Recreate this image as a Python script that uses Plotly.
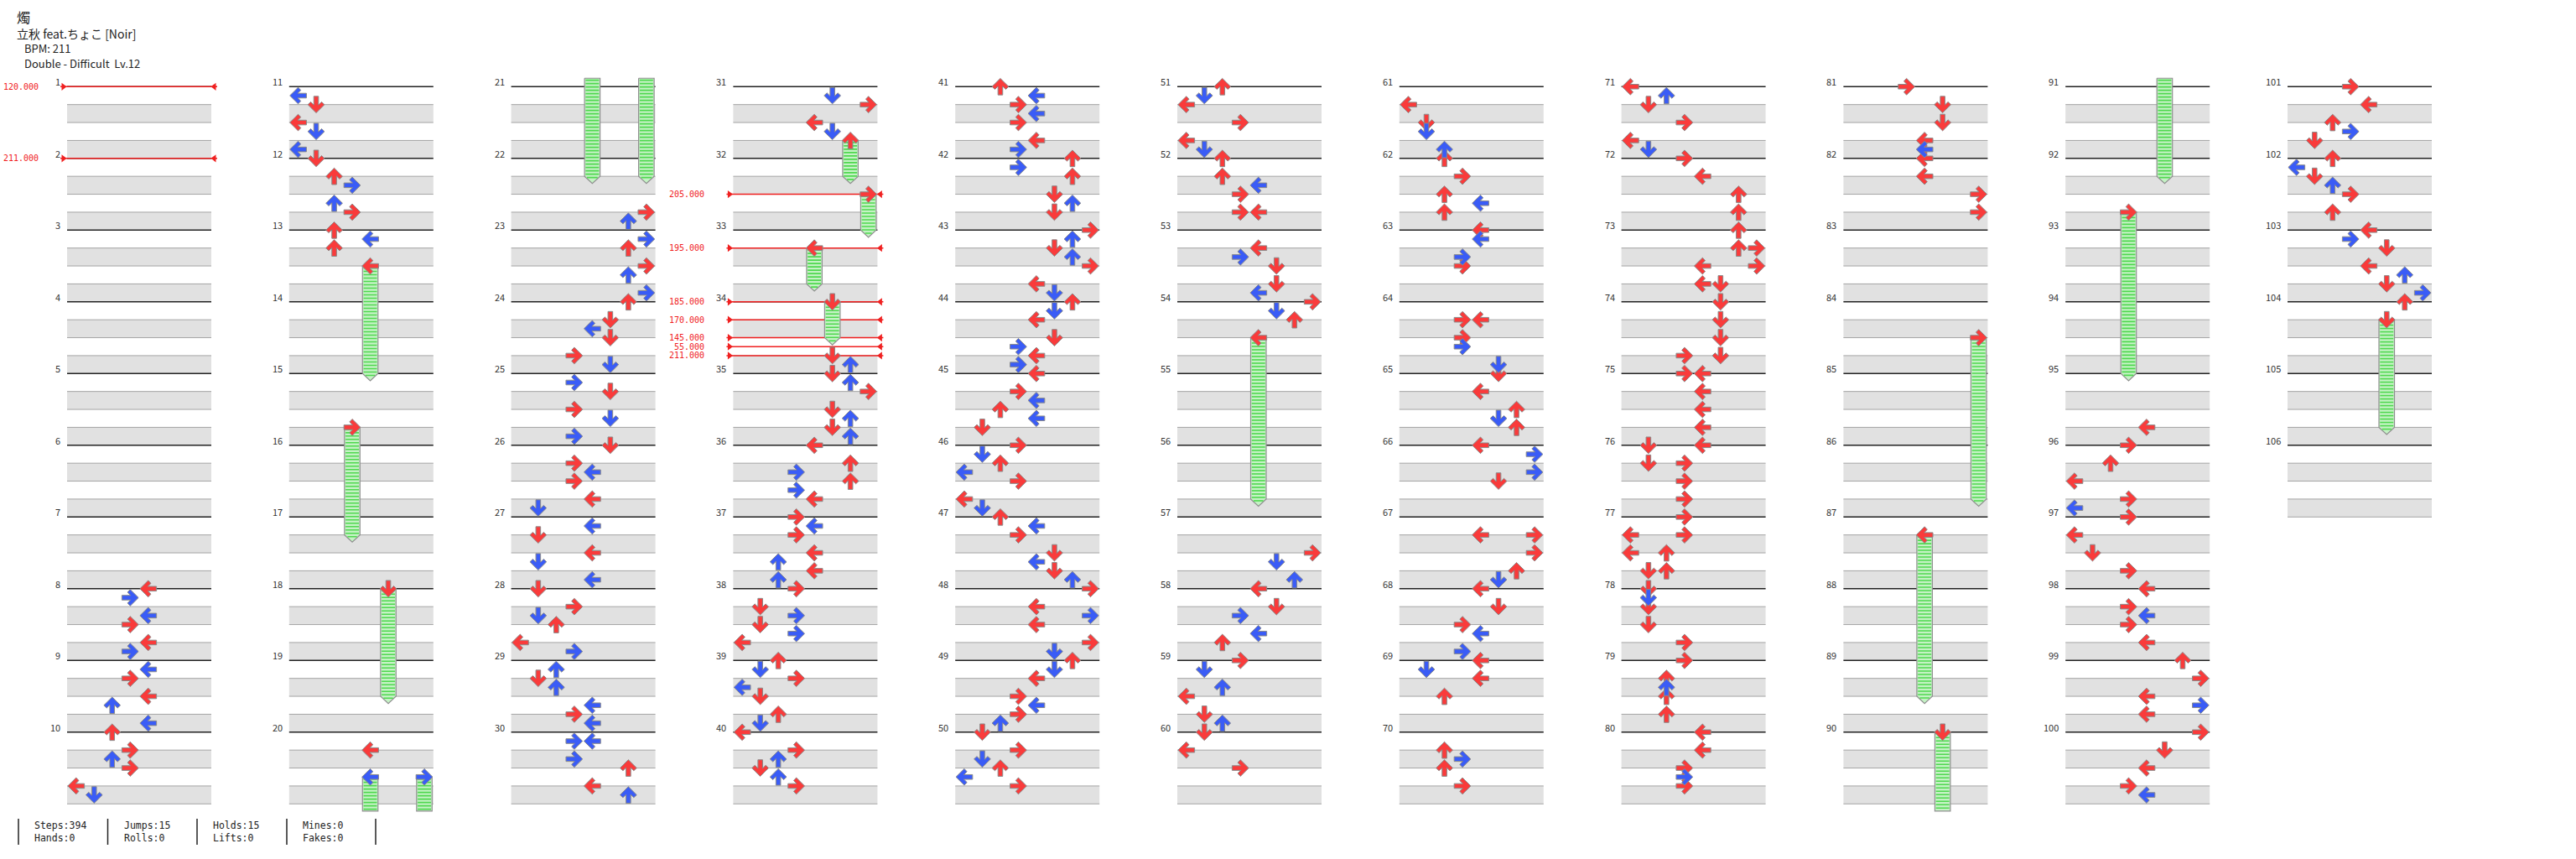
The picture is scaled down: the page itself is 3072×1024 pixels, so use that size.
import plotly.graph_objects as go

# ---------------- chart data ----------------
TITLE = "燭"
SUBTITLE = "立秋 feat.ちょこ [Noir]"
BPM_TEXT = "BPM: 211"
DIFF_TEXT = "Double - Difficult  Lv.12"

N_MEASURES = 106
MEASURES_PER_COLUMN = 10
LANE_COUNT = 8          # L D U R | L D U R

# taps: (measure, eighth-note index inside the measure 0-7, lane 0-7)
TAPS_01_10 = [
    (8, 0, 4), (8, 1, 3), (8, 3, 4), (8, 4, 3), (8, 6, 4), (8, 7, 3),
    (9, 1, 4), (9, 2, 3), (9, 4, 4), (9, 5, 2), (9, 7, 4),
    (10, 0, 2), (10, 2, 3), (10, 3, 2), (10, 4, 3), (10, 6, 0), (10, 7, 1),
]
TAPS_11_20 = [
    (11, 1, 0), (11, 2, 1), (11, 4, 0), (11, 5, 1), (11, 7, 0),
    (12, 0, 1), (12, 2, 2), (12, 3, 3), (12, 5, 2), (12, 6, 3),
    (13, 0, 2), (13, 1, 4), (13, 2, 2),
    (20, 2, 4),
]
TAPS_21_30 = [
    (22, 6, 7), (22, 7, 6),
    (23, 1, 7), (23, 2, 6), (23, 4, 7), (23, 5, 6), (23, 7, 7),
    (24, 0, 6), (24, 2, 5), (24, 3, 4), (24, 4, 5), (24, 6, 3), (24, 7, 5),
    (25, 1, 3), (25, 2, 5), (25, 4, 3), (25, 5, 5), (25, 7, 3),
    (26, 0, 5), (26, 2, 3), (26, 3, 4), (26, 4, 3), (26, 6, 4), (26, 7, 1),
    (27, 1, 4), (27, 2, 1), (27, 4, 4), (27, 5, 1), (27, 7, 4),
    (28, 0, 1), (28, 2, 3), (28, 3, 1), (28, 4, 2), (28, 6, 0), (28, 7, 3),
    (29, 1, 2), (29, 2, 1), (29, 3, 2), (29, 5, 4), (29, 6, 3), (29, 7, 4),
    (30, 1, 3), (30, 1, 4), (30, 3, 3), (30, 4, 6), (30, 6, 4), (30, 7, 6),
]
TAPS_31_40 = [
    (31, 1, 5), (31, 2, 7), (31, 4, 4), (31, 5, 5),
    (34, 6, 5), (34, 7, 6),
    (35, 0, 5), (35, 1, 6), (35, 2, 7), (35, 4, 5), (35, 5, 6), (35, 6, 5), (35, 7, 6),
    (36, 0, 4), (36, 2, 6), (36, 3, 3), (36, 4, 6), (36, 5, 3), (36, 6, 4),
    (37, 0, 3), (37, 1, 4), (37, 2, 3), (37, 4, 4), (37, 5, 2), (37, 6, 4), (37, 7, 2),
    (38, 0, 3), (38, 2, 1), (38, 3, 3), (38, 4, 1), (38, 5, 3), (38, 6, 0),
    (39, 0, 2), (39, 1, 1), (39, 2, 3), (39, 3, 0), (39, 4, 1), (39, 6, 2), (39, 7, 1),
    (40, 0, 0), (40, 2, 3), (40, 3, 2), (40, 4, 1), (40, 5, 2), (40, 6, 3),
]
TAPS_41_50 = [
    (41, 0, 2), (41, 1, 4), (41, 2, 3), (41, 3, 4), (41, 4, 3), (41, 6, 4), (41, 7, 3),
    (42, 0, 6), (42, 1, 3), (42, 2, 6), (42, 4, 5), (42, 5, 6), (42, 6, 5),
    (43, 0, 7), (43, 1, 6), (43, 2, 5), (43, 3, 6), (43, 4, 7), (43, 6, 4), (43, 7, 5),
    (44, 0, 6), (44, 1, 5), (44, 2, 4), (44, 4, 5), (44, 5, 3), (44, 6, 4), (44, 7, 3),
    (45, 0, 4), (45, 2, 3), (45, 3, 4), (45, 4, 2), (45, 5, 4), (45, 6, 1),
    (46, 0, 3), (46, 1, 1), (46, 2, 2), (46, 3, 0), (46, 4, 3), (46, 6, 0), (46, 7, 1),
    (47, 0, 2), (47, 1, 4), (47, 2, 3), (47, 4, 5), (47, 5, 4), (47, 6, 5), (47, 7, 6),
    (48, 0, 7), (48, 2, 4), (48, 3, 7), (48, 4, 4), (48, 6, 7), (48, 7, 5),
    (49, 0, 6), (49, 1, 5), (49, 2, 4), (49, 4, 3), (49, 5, 4), (49, 6, 3), (49, 7, 2),
    (50, 0, 1), (50, 2, 3), (50, 3, 1), (50, 4, 2), (50, 5, 0), (50, 6, 3),
]
TAPS_51_60 = [
    (51, 0, 2), (51, 1, 1), (51, 2, 0), (51, 4, 3), (51, 6, 0), (51, 7, 1),
    (52, 0, 2), (52, 2, 2), (52, 3, 4), (52, 4, 3), (52, 6, 3), (52, 6, 4),
    (53, 2, 4), (53, 3, 3), (53, 4, 5), (53, 6, 5), (53, 7, 4),
    (54, 0, 7), (54, 1, 5), (54, 2, 6),
    (57, 4, 7), (57, 5, 5), (57, 7, 6),
    (58, 0, 4), (58, 2, 5), (58, 3, 3), (58, 5, 4), (58, 6, 2),
    (59, 0, 3), (59, 1, 1), (59, 3, 2), (59, 4, 0), (59, 6, 1), (59, 7, 2),
    (60, 0, 1), (60, 2, 0), (60, 4, 3),
]
TAPS_61_70 = [
    (61, 2, 0), (61, 4, 1), (61, 5, 1), (61, 7, 2),
    (62, 0, 2), (62, 2, 3), (62, 4, 2), (62, 5, 4), (62, 6, 2),
    (63, 0, 4), (63, 1, 4), (63, 3, 3), (63, 4, 3),
    (64, 2, 3), (64, 2, 4), (64, 4, 3), (64, 5, 3), (64, 7, 5),
    (65, 0, 5), (65, 2, 4), (65, 4, 6), (65, 5, 5), (65, 6, 6),
    (66, 0, 4), (66, 1, 7), (66, 3, 7), (66, 4, 5),
    (67, 2, 4), (67, 2, 7), (67, 4, 7), (67, 6, 6), (67, 7, 5),
    (68, 0, 4), (68, 2, 5), (68, 4, 3), (68, 5, 4), (68, 7, 3),
    (69, 0, 4), (69, 1, 1), (69, 2, 4), (69, 4, 2),
    (70, 2, 2), (70, 3, 3), (70, 4, 2), (70, 6, 3),
]
TAPS_71_80 = [
    (71, 0, 0), (71, 1, 2), (71, 2, 1), (71, 4, 3), (71, 6, 0), (71, 7, 1),
    (72, 0, 3), (72, 2, 4), (72, 4, 6), (72, 6, 6),
    (73, 0, 6), (73, 2, 6), (73, 2, 7), (73, 4, 4), (73, 4, 7), (73, 6, 4), (73, 6, 5),
    (74, 0, 5), (74, 2, 5), (74, 4, 5), (74, 6, 3), (74, 6, 5),
    (75, 0, 3), (75, 0, 4), (75, 2, 4), (75, 4, 4), (75, 6, 4),
    (76, 0, 1), (76, 0, 4), (76, 2, 1), (76, 2, 3), (76, 4, 3), (76, 6, 3),
    (77, 0, 3), (77, 2, 0), (77, 2, 3), (77, 4, 0), (77, 4, 2), (77, 6, 1), (77, 6, 2),
    (78, 0, 1), (78, 1, 1), (78, 2, 1), (78, 4, 1), (78, 6, 3),
    (79, 0, 3), (79, 2, 2), (79, 3, 2), (79, 4, 2), (79, 6, 2),
    (80, 0, 4), (80, 2, 4), (80, 4, 3), (80, 5, 3), (80, 6, 3),
]
TAPS_81_90 = [
    (81, 0, 3), (81, 2, 5), (81, 4, 5), (81, 6, 4), (81, 7, 4),
    (82, 0, 4), (82, 2, 4), (82, 4, 7), (82, 6, 7),
]
TAPS_91_100 = [
    (95, 6, 4),
    (96, 0, 3), (96, 2, 2), (96, 4, 0), (96, 6, 3), (96, 7, 0),
    (97, 0, 3), (97, 2, 0), (97, 4, 1), (97, 6, 3),
    (98, 0, 4), (98, 2, 3), (98, 3, 4), (98, 4, 3), (98, 6, 4),
    (99, 0, 6), (99, 2, 7), (99, 4, 4), (99, 5, 7), (99, 6, 4),
    (100, 0, 7), (100, 2, 5), (100, 4, 4), (100, 6, 3), (100, 7, 4),
]
TAPS_101_106 = [
    (101, 0, 3), (101, 2, 4), (101, 4, 2), (101, 5, 3), (101, 6, 1),
    (102, 0, 2), (102, 1, 0), (102, 2, 1), (102, 3, 2), (102, 4, 3), (102, 6, 2),
    (103, 0, 4), (103, 1, 3), (103, 2, 5), (103, 4, 4), (103, 5, 6), (103, 6, 5), (103, 7, 7),
    (104, 0, 6),
]

# holds: (start measure, start eighth, lane, end measure, end eighth)
HOLDS = [
    (13, 4, 4, 15, 0), (15, 6, 3, 17, 2), (18, 0, 5, 19, 4),
    (20, 5, 4, 22, 2), (20, 5, 7, 22, 2),
    (31, 6, 6, 32, 2), (32, 4, 7, 33, 0), (33, 2, 4, 33, 6), (34, 0, 5, 34, 4),
    (54, 4, 4, 56, 6),
    (84, 4, 7, 86, 6), (87, 2, 4, 89, 4), (90, 0, 5, 92, 2),
    (92, 6, 3, 95, 0),
    (104, 2, 5, 105, 6),
]

BPM_MEASURE = [1, 2, 32, 33, 34, 34, 34, 34, 34]
BPM_EIGHTH = [0, 0, 4, 2, 0, 2, 4, 5, 6]
BPM_VALUE = [120, 211, 205, 195, 185, 170, 145, 55, 211]

STATS_ROW1 = ["Steps:394", "Jumps:15", "Holds:15", "Mines:0"]
STATS_ROW2 = ["Hands:0", "Rolls:0", "Lifts:0", "Fakes:0"]

ALL_TAPS = (TAPS_01_10 + TAPS_11_20 + TAPS_21_30 + TAPS_31_40 + TAPS_41_50 +
            TAPS_51_60 + TAPS_61_70 + TAPS_71_80 + TAPS_81_90 + TAPS_91_100 +
            TAPS_101_106)

# ---------------- geometry / style ----------------
W, H = 3072, 1024
COL_X0, COL_STEP = 80.0, 264.8
LANE_PX = 21.5
BEAT_PX = 21.375
TOP_PX = 103.3
PAD_PX = 44
N_COLS = (N_MEASURES + MEASURES_PER_COLUMN - 1) // MEASURES_PER_COLUMN
COL_BEATS = MEASURES_PER_COLUMN * 4

RED, BLUE = "#f93b3b", "#3a5cf6"
OUTLINE = "#8a8a8a"
BAND = "#e1e1e1"
BAND_LINE = "#a4a4a4"
MEASURE_LINE = "#222222"
BPM_RED = "#f02020"
HOLD_FILL = "#c4f2c4"
HOLD_STRIPE = "#4fd84f"
HOLD_EDGE = "#8f8f8f"
SANS = "Noto Sans CJK JP"
MONO = "DejaVu Sans Mono"

UP_SHAPE = [(0, -0.46), (0.46, 0.0), (0.30, 0.15), (0.13, -0.02), (0.13, 0.46),
            (-0.13, 0.46), (-0.13, -0.02), (-0.30, 0.15), (-0.46, 0.0), (0, -0.46)]
HOLD_HALF = 0.43
STRIPE_STEP = 4.0 / BEAT_PX


def col_of(m):
    return (m - 1) // MEASURES_PER_COLUMN


def local_beat(m, e):
    return ((m - 1) % MEASURES_PER_COLUMN) * 4 + e / 2.0


def arrow_pts(lane, beat):
    d = lane % 4
    pts = []
    for x, y in UP_SHAPE:
        if d == 0:
            px, py = y, x
        elif d == 1:
            px, py = x, -y
        elif d == 2:
            px, py = x, y
        else:
            px, py = -y, x
        pts.append((lane + px, beat + py))
    return pts


def refs(k):
    return ("x" if k == 0 else f"x{k + 1}", "y" if k == 0 else f"y{k + 1}")


cols = [dict(red_x=[], red_y=[], blue_x=[], blue_y=[], hold_x=[], hold_y=[],
             stripe_x=[], stripe_y=[]) for _ in range(N_COLS)]


def add_arrow(m, e, lane):
    c = cols[col_of(m)]
    key = "red" if e % 2 == 0 else "blue"
    for px, py in arrow_pts(lane, local_beat(m, e)):
        c[key + "_x"].append(px)
        c[key + "_y"].append(py)
    c[key + "_x"].append(None)
    c[key + "_y"].append(None)


def add_hold_piece(k, lane, s, t, tail):
    c = cols[k]
    a, b = lane - HOLD_HALF, lane + HOLD_HALF
    if tail:
        c["hold_x"] += [a, b, b, lane, a, a, None]
        c["hold_y"] += [s, s, t, t + 0.40, t, s, None]
    else:
        c["hold_x"] += [a, b, b, a, a, None]
        c["hold_y"] += [s, s, t, t, s, None]
    y = s + STRIPE_STEP * 0.6
    while y < t + (0.2 if tail else 0):
        shrink = 0.0
        if y > t:
            shrink = (y - t) / 0.40 * HOLD_HALF
        c["stripe_x"] += [a + 0.06 + shrink, b - 0.06 - shrink, None]
        c["stripe_y"] += [y, y, None]
        y += STRIPE_STEP


for (m0, e0, lane, m1, e1) in HOLDS:
    k0, k1 = col_of(m0), col_of(m1)
    s = local_beat(m0, e0)
    if k1 == k0:
        add_hold_piece(k0, lane, s, local_beat(m1, e1), True)
    else:
        add_hold_piece(k0, lane, s, COL_BEATS + 0.4, False)
        add_hold_piece(k1, lane, -0.47, local_beat(m1, e1), True)

for (m, e, lane) in ALL_TAPS:
    add_arrow(m, e, lane)
for (m0, e0, lane, m1, e1) in HOLDS:
    add_arrow(m0, e0, lane)

fig = go.Figure()
layout_axes = {}
annotations = []
x_lo = -0.5 - PAD_PX / LANE_PX
x_hi = LANE_COUNT - 0.5 + PAD_PX / LANE_PX

for k in range(N_COLS):
    xr, yr = refs(k)
    x0 = COL_X0 + k * COL_STEP
    layout_axes["xaxis" if k == 0 else f"xaxis{k + 1}"] = dict(
        domain=[(x0 - PAD_PX) / W, (x0 + LANE_COUNT * LANE_PX + PAD_PX) / W],
        range=[x_lo, x_hi], visible=False, fixedrange=True, anchor=yr)
    layout_axes["yaxis" if k == 0 else f"yaxis{k + 1}"] = dict(
        domain=[0, 1], range=[(H - TOP_PX) / BEAT_PX, -TOP_PX / BEAT_PX],
        visible=False, fixedrange=True, anchor=xr)

    first_m = k * MEASURES_PER_COLUMN + 1
    n_meas = min(MEASURES_PER_COLUMN, N_MEASURES - k * MEASURES_PER_COLUMN)
    L, R = -0.5, LANE_COUNT - 0.5

    # shaded beat bands
    bx, by = [], []
    for i in range(n_meas):
        for b in (1, 3):
            y0, y1 = 4 * i + b, 4 * i + b + 1
            bx += [L, R, R, L, L, None]
            by += [y0, y0, y1, y1, y0, None]
    fig.add_trace(go.Scatter(x=bx, y=by, mode="lines", fill="toself", fillcolor=BAND,
                             line=dict(width=0, color="rgba(0,0,0,0)"),
                             xaxis=xr, yaxis=yr, hoverinfo="skip"))
    # band borders
    gx, gy = [], []
    for i in range(n_meas):
        for b in (1, 2, 3):
            gx += [L, R, None]
            gy += [4 * i + b, 4 * i + b, None]
    gx += [L, R, None]
    gy += [4 * n_meas, 4 * n_meas, None]
    fig.add_trace(go.Scatter(x=gx, y=gy, mode="lines", line=dict(width=1, color=BAND_LINE),
                             xaxis=xr, yaxis=yr, hoverinfo="skip"))
    # measure lines
    mx, my = [], []
    for i in range(n_meas):
        mx += [L, R, None]
        my += [4 * i, 4 * i, None]
    fig.add_trace(go.Scatter(x=mx, y=my, mode="lines", line=dict(width=1.4, color=MEASURE_LINE),
                             xaxis=xr, yaxis=yr, hoverinfo="skip"))
    for i in range(n_meas):
        annotations.append(dict(x=L - 6 / LANE_PX, y=4 * i, xref=xr, yref=yr,
                                text=str(first_m + i), showarrow=False, xanchor="right",
                                yanchor="middle", yshift=6,
                                font=dict(family=SANS, size=11, color="#333333")))

    # BPM changes
    lx, ly, tx, ty, ts = [], [], [], [], []
    for bm, be, bv in zip(BPM_MEASURE, BPM_EIGHTH, BPM_VALUE):
        if col_of(bm) != k:
            continue
        yb = local_beat(bm, be)
        lx += [L - 8 / LANE_PX, R + 7 / LANE_PX, None]
        ly += [yb, yb, None]
        tx += [L - 4.5 / LANE_PX, R + 3.5 / LANE_PX]
        ty += [yb, yb]
        ts += ["triangle-right", "triangle-left"]
        annotations.append(dict(x=L - 32 / LANE_PX, y=yb, xref=xr, yref=yr,
                                text=f"{bv:.3f}", showarrow=False, xanchor="right",
                                yanchor="middle",
                                font=dict(family=MONO, size=10, color=BPM_RED)))
    if lx:
        fig.add_trace(go.Scatter(x=lx, y=ly, mode="lines", line=dict(width=1.5, color=BPM_RED),
                                 xaxis=xr, yaxis=yr, hoverinfo="skip"))
        fig.add_trace(go.Scatter(x=tx, y=ty, mode="markers",
                                 marker=dict(symbol=ts, size=8, color=BPM_RED, line=dict(width=0)),
                                 xaxis=xr, yaxis=yr, hoverinfo="skip"))

    c = cols[k]
    if c["hold_x"]:
        fig.add_trace(go.Scatter(x=c["hold_x"], y=c["hold_y"], mode="lines", fill="toself",
                                 fillcolor=HOLD_FILL, line=dict(width=1.2, color=HOLD_EDGE),
                                 xaxis=xr, yaxis=yr, hoverinfo="skip"))
        fig.add_trace(go.Scatter(x=c["stripe_x"], y=c["stripe_y"], mode="lines",
                                 line=dict(width=1.6, color=HOLD_STRIPE),
                                 xaxis=xr, yaxis=yr, hoverinfo="skip"))
    if c["red_x"]:
        fig.add_trace(go.Scatter(x=c["red_x"], y=c["red_y"], mode="lines", fill="toself",
                                 fillcolor=RED, line=dict(width=1, color=OUTLINE),
                                 xaxis=xr, yaxis=yr, hoverinfo="skip"))
    if c["blue_x"]:
        fig.add_trace(go.Scatter(x=c["blue_x"], y=c["blue_y"], mode="lines", fill="toself",
                                 fillcolor=BLUE, line=dict(width=1, color=OUTLINE),
                                 xaxis=xr, yaxis=yr, hoverinfo="skip"))

# header
header = [(TITLE, 18, 20, 16), (SUBTITLE, 18, 40, 14), (BPM_TEXT, 27, 57, 13), (DIFF_TEXT, 27, 75, 13)]
for txt, px, py, fs in header:
    annotations.append(dict(x=px / W, y=1 - py / H, xref="paper", yref="paper", text=txt,
                            showarrow=False, xanchor="left", yanchor="middle",
                            font=dict(family=SANS, size=fs, color="#222222")))

# footer statistics
STAT_X = [39, 146, 252, 359]
PIPE_X = [22, 128.5, 235, 342, 448]
for row, py in ((STATS_ROW1, 984), (STATS_ROW2, 999)):
    for txt, px in zip(row, STAT_X):
        annotations.append(dict(x=px / W, y=1 - py / H, xref="paper", yref="paper", text=txt,
                                showarrow=False, xanchor="left", yanchor="middle",
                                font=dict(family=MONO, size=11.5, color="#222222")))
shapes = [dict(type="line", xref="paper", yref="paper", x0=px / W, x1=px / W,
               y0=1 - 976 / H, y1=1 - 1007 / H, line=dict(color="#222222", width=1.5))
          for px in PIPE_X]

fig.update_layout(width=W, height=H, margin=dict(l=0, r=0, t=0, b=0),
                  paper_bgcolor="white", plot_bgcolor="rgba(0,0,0,0)",
                  showlegend=False, annotations=annotations,
                  shapes=shapes, **layout_axes)

fig.write_html("out.html", config={"displayModeBar": False},
               post_script="document.body.style.margin='0';document.body.style.overflow='hidden';")
